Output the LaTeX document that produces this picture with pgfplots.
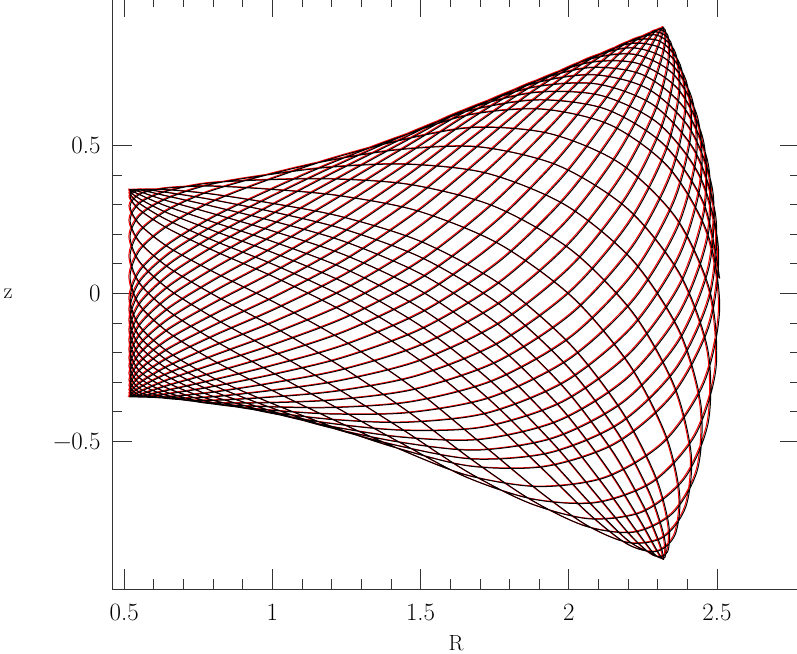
\documentclass[border=0pt]{standalone}
\usepackage{pgfplots}
\usepackage{pgfplotstable}
\pgfplotsset{compat=1.18}
\pgfplotstableread[row sep=\\]{
R z\\
2.509 0.050\\ 2.457 0.301\\ 2.322 0.502\\ 2.125 0.622\\ 1.896 0.653\\ 1.655 0.614\\ 1.421 0.523\\ 1.197 0.423\\ 0.987 0.322\\ 0.801 0.227\\ 0.651 0.133\\ 0.553 0.040\\ 0.520 -0.055\\ 0.553 -0.146\\ 0.648 -0.228\\ 0.792 -0.307\\ 0.975 -0.379\\ 1.187 -0.451\\ 1.424 -0.515\\ 1.678 -0.560\\ 1.937 -0.539\\ 2.175 -0.438\\ 2.364 -0.253\\ 2.476 -0.009\\
2.497 0.250\\ 2.428 0.477\\ 2.286 0.636\\ 2.094 0.707\\ 1.877 0.695\\ 1.652 0.620\\ 1.429 0.503\\ 1.209 0.382\\ 0.997 0.266\\ 0.806 0.160\\ 0.653 0.062\\ 0.553 -0.034\\ 0.520 -0.125\\ 0.553 -0.209\\ 0.645 -0.280\\ 0.787 -0.344\\ 0.971 -0.397\\ 1.189 -0.448\\ 1.436 -0.486\\ 1.700 -0.494\\ 1.966 -0.431\\ 2.201 -0.284\\ 2.376 -0.064\\ 2.469 0.190\\
2.471 0.434\\ 2.391 0.625\\ 2.250 0.738\\ 2.070 0.762\\ 1.870 0.710\\ 1.660 0.604\\ 1.444 0.463\\ 1.223 0.324\\ 1.007 0.197\\ 0.809 0.087\\ 0.653 -0.012\\ 0.553 -0.106\\ 0.520 -0.191\\ 0.553 -0.263\\ 0.642 -0.319\\ 0.784 -0.366\\ 0.970 -0.398\\ 1.196 -0.426\\ 1.453 -0.436\\ 1.725 -0.405\\ 1.991 -0.297\\ 2.216 -0.112\\ 2.374 0.128\\ 2.446 0.378\\
2.435 0.593\\ 2.352 0.742\\ 2.221 0.807\\ 2.058 0.787\\ 1.875 0.699\\ 1.676 0.564\\ 1.463 0.403\\ 1.238 0.251\\ 1.014 0.119\\ 0.811 0.010\\ 0.652 -0.086\\ 0.553 -0.173\\ 0.520 -0.247\\ 0.553 -0.305\\ 0.641 -0.344\\ 0.783 -0.372\\ 0.974 -0.383\\ 1.208 -0.386\\ 1.472 -0.366\\ 1.748 -0.294\\ 2.008 -0.147\\ 2.218 0.067\\ 2.356 0.312\\ 2.413 0.543\\
2.395 0.721\\ 2.319 0.824\\ 2.204 0.843\\ 2.060 0.783\\ 1.892 0.662\\ 1.698 0.501\\ 1.482 0.324\\ 1.249 0.165\\ 1.018 0.036\\ 0.810 -0.068\\ 0.651 -0.155\\ 0.553 -0.233\\ 0.520 -0.294\\ 0.553 -0.335\\ 0.640 -0.355\\ 0.785 -0.362\\ 0.981 -0.352\\ 1.222 -0.330\\ 1.491 -0.278\\ 1.765 -0.167\\ 2.013 0.013\\ 2.206 0.242\\ 2.327 0.478\\ 2.374 0.678\\
2.359 0.815\\ 2.297 0.872\\ 2.201 0.849\\ 2.075 0.751\\ 1.917 0.598\\ 1.723 0.413\\ 1.499 0.227\\ 1.256 0.070\\ 1.017 -0.050\\ 0.807 -0.142\\ 0.648 -0.219\\ 0.553 -0.282\\ 0.520 -0.327\\ 0.553 -0.349\\ 0.640 -0.350\\ 0.788 -0.336\\ 0.991 -0.305\\ 1.236 -0.258\\ 1.506 -0.173\\ 1.772 -0.029\\ 2.006 0.173\\ 2.182 0.402\\ 2.292 0.616\\ 2.337 0.780\\
2.333 0.874\\ 2.289 0.887\\ 2.213 0.822\\ 2.101 0.689\\ 1.947 0.506\\ 1.746 0.304\\ 1.511 0.117\\ 1.258 -0.029\\ 1.013 -0.133\\ 0.802 -0.211\\ 0.645 -0.272\\ 0.553 -0.319\\ 0.520 -0.346\\ 0.553 -0.349\\ 0.642 -0.329\\ 0.793 -0.295\\ 1.001 -0.244\\ 1.248 -0.173\\ 1.514 -0.059\\ 1.769 0.110\\ 1.987 0.321\\ 2.151 0.538\\ 2.255 0.723\\ 2.308 0.848\\
2.320 0.899\\ 2.298 0.869\\ 2.239 0.764\\ 2.134 0.596\\ 1.975 0.388\\ 1.763 0.178\\ 1.515 0.000\\ 1.253 -0.126\\ 1.005 -0.209\\ 0.796 -0.270\\ 0.643 -0.313\\ 0.553 -0.343\\ 0.520 -0.350\\ 0.553 -0.333\\ 0.644 -0.294\\ 0.799 -0.241\\ 1.009 -0.172\\ 1.256 -0.078\\ 1.514 0.059\\ 1.756 0.243\\ 1.961 0.450\\ 2.117 0.646\\ 2.225 0.797\\ 2.291 0.883\\
2.325 0.891\\ 2.321 0.818\\ 2.273 0.674\\ 2.167 0.473\\ 1.998 0.249\\ 1.772 0.041\\ 1.511 -0.117\\ 1.243 -0.216\\ 0.996 -0.276\\ 0.791 -0.317\\ 0.641 -0.341\\ 0.553 -0.351\\ 0.520 -0.338\\ 0.553 -0.303\\ 0.647 -0.247\\ 0.805 -0.177\\ 1.016 -0.092\\ 1.258 0.021\\ 1.506 0.173\\ 1.735 0.361\\ 1.932 0.556\\ 2.087 0.724\\ 2.205 0.839\\ 2.291 0.883\\
2.344 0.849\\ 2.355 0.733\\ 2.310 0.551\\ 2.195 0.325\\ 2.011 0.094\\ 1.769 -0.099\\ 1.499 -0.227\\ 1.229 -0.295\\ 0.986 -0.330\\ 0.786 -0.351\\ 0.640 -0.354\\ 0.553 -0.344\\ 0.520 -0.312\\ 0.553 -0.259\\ 0.649 -0.188\\ 0.809 -0.106\\ 1.018 -0.007\\ 1.254 0.118\\ 1.491 0.278\\ 1.711 0.460\\ 1.903 0.634\\ 2.066 0.771\\ 2.200 0.849\\ 2.306 0.852\\
2.376 0.772\\ 2.394 0.614\\ 2.343 0.397\\ 2.214 0.156\\ 2.012 -0.067\\ 1.757 -0.232\\ 1.482 -0.324\\ 1.214 -0.360\\ 0.977 -0.370\\ 0.783 -0.369\\ 0.640 -0.351\\ 0.553 -0.322\\ 0.520 -0.272\\ 0.553 -0.204\\ 0.651 -0.121\\ 0.811 -0.029\\ 1.016 0.078\\ 1.244 0.209\\ 1.472 0.366\\ 1.687 0.535\\ 1.882 0.684\\ 2.057 0.789\\ 2.210 0.829\\ 2.334 0.787\\
2.415 0.661\\ 2.431 0.463\\ 2.367 0.222\\ 2.219 -0.022\\ 2.001 -0.223\\ 1.737 -0.352\\ 1.463 -0.403\\ 1.201 -0.408\\ 0.972 -0.393\\ 0.783 -0.371\\ 0.642 -0.334\\ 0.553 -0.286\\ 0.520 -0.220\\ 0.553 -0.140\\ 0.653 -0.049\\ 0.811 0.049\\ 1.011 0.159\\ 1.230 0.290\\ 1.453 0.436\\ 1.667 0.587\\ 1.871 0.708\\ 2.063 0.778\\ 2.234 0.776\\ 2.371 0.688\\
2.454 0.517\\ 2.459 0.286\\ 2.377 0.032\\ 2.210 -0.199\\ 1.979 -0.367\\ 1.713 -0.452\\ 1.444 -0.463\\ 1.191 -0.439\\ 0.970 -0.400\\ 0.785 -0.357\\ 0.644 -0.301\\ 0.553 -0.237\\ 0.520 -0.159\\ 0.553 -0.070\\ 0.653 0.025\\ 0.808 0.124\\ 1.002 0.233\\ 1.216 0.356\\ 1.436 0.486\\ 1.655 0.615\\ 1.872 0.706\\ 2.081 0.738\\ 2.267 0.691\\ 2.410 0.555\\
2.486 0.344\\ 2.474 0.092\\ 2.372 -0.160\\ 2.189 -0.364\\ 1.952 -0.488\\ 1.689 -0.530\\ 1.429 -0.503\\ 1.187 -0.452\\ 0.972 -0.390\\ 0.789 -0.327\\ 0.646 -0.255\\ 0.553 -0.178\\ 0.520 -0.091\\ 0.553 0.003\\ 0.652 0.098\\ 0.803 0.194\\ 0.992 0.295\\ 1.202 0.405\\ 1.424 0.515\\ 1.652 0.620\\ 1.885 0.678\\ 2.109 0.668\\ 2.304 0.573\\ 2.444 0.393\\
2.505 0.151\\ 2.474 -0.108\\ 2.352 -0.342\\ 2.159 -0.507\\ 1.922 -0.585\\ 1.668 -0.584\\ 1.421 -0.523\\ 1.189 -0.446\\ 0.979 -0.364\\ 0.795 -0.283\\ 0.649 -0.198\\ 0.553 -0.111\\ 0.520 -0.018\\ 0.553 0.076\\ 0.650 0.166\\ 0.798 0.256\\ 0.983 0.345\\ 1.192 0.437\\ 1.420 0.525\\ 1.661 0.602\\ 1.908 0.622\\ 2.142 0.568\\ 2.338 0.425\\ 2.467 0.206\\
2.509 -0.050\\ 2.457 -0.301\\ 2.322 -0.502\\ 2.125 -0.622\\ 1.896 -0.653\\ 1.655 -0.614\\ 1.421 -0.523\\ 1.197 -0.423\\ 0.987 -0.322\\ 0.801 -0.227\\ 0.651 -0.133\\ 0.553 -0.040\\ 0.520 0.055\\ 0.553 0.146\\ 0.648 0.228\\ 0.792 0.307\\ 0.975 0.379\\ 1.187 0.451\\ 1.424 0.515\\ 1.678 0.560\\ 1.937 0.539\\ 2.175 0.438\\ 2.364 0.253\\ 2.476 0.009\\
2.497 -0.250\\ 2.428 -0.477\\ 2.286 -0.636\\ 2.094 -0.707\\ 1.877 -0.695\\ 1.652 -0.620\\ 1.429 -0.503\\ 1.209 -0.382\\ 0.997 -0.266\\ 0.806 -0.160\\ 0.653 -0.062\\ 0.553 0.034\\ 0.520 0.125\\ 0.553 0.209\\ 0.645 0.280\\ 0.787 0.344\\ 0.971 0.397\\ 1.189 0.448\\ 1.436 0.486\\ 1.700 0.494\\ 1.966 0.431\\ 2.201 0.284\\ 2.376 0.064\\ 2.469 -0.190\\
2.471 -0.434\\ 2.391 -0.625\\ 2.250 -0.738\\ 2.070 -0.762\\ 1.870 -0.710\\ 1.660 -0.604\\ 1.444 -0.463\\ 1.223 -0.324\\ 1.007 -0.197\\ 0.809 -0.087\\ 0.653 0.012\\ 0.553 0.106\\ 0.520 0.191\\ 0.553 0.263\\ 0.642 0.319\\ 0.784 0.366\\ 0.970 0.398\\ 1.196 0.426\\ 1.453 0.436\\ 1.725 0.405\\ 1.991 0.297\\ 2.216 0.112\\ 2.374 -0.128\\ 2.446 -0.378\\
2.435 -0.593\\ 2.352 -0.742\\ 2.221 -0.807\\ 2.058 -0.787\\ 1.875 -0.699\\ 1.676 -0.564\\ 1.463 -0.403\\ 1.238 -0.251\\ 1.014 -0.119\\ 0.811 -0.010\\ 0.652 0.086\\ 0.553 0.173\\ 0.520 0.247\\ 0.553 0.305\\ 0.641 0.344\\ 0.783 0.372\\ 0.974 0.383\\ 1.208 0.386\\ 1.472 0.366\\ 1.748 0.294\\ 2.008 0.147\\ 2.218 -0.067\\ 2.356 -0.312\\ 2.413 -0.543\\
2.395 -0.721\\ 2.319 -0.824\\ 2.204 -0.843\\ 2.060 -0.783\\ 1.892 -0.662\\ 1.698 -0.501\\ 1.482 -0.324\\ 1.249 -0.165\\ 1.018 -0.036\\ 0.810 0.068\\ 0.651 0.155\\ 0.553 0.233\\ 0.520 0.294\\ 0.553 0.335\\ 0.640 0.355\\ 0.785 0.362\\ 0.981 0.352\\ 1.222 0.330\\ 1.491 0.278\\ 1.765 0.167\\ 2.013 -0.013\\ 2.206 -0.242\\ 2.327 -0.478\\ 2.374 -0.678\\
2.359 -0.815\\ 2.297 -0.872\\ 2.201 -0.849\\ 2.075 -0.751\\ 1.917 -0.598\\ 1.723 -0.413\\ 1.499 -0.227\\ 1.256 -0.070\\ 1.017 0.050\\ 0.807 0.142\\ 0.648 0.219\\ 0.553 0.282\\ 0.520 0.327\\ 0.553 0.349\\ 0.640 0.350\\ 0.788 0.336\\ 0.991 0.305\\ 1.236 0.258\\ 1.506 0.173\\ 1.772 0.029\\ 2.006 -0.173\\ 2.182 -0.402\\ 2.292 -0.616\\ 2.337 -0.780\\
2.333 -0.874\\ 2.289 -0.887\\ 2.213 -0.822\\ 2.101 -0.689\\ 1.947 -0.506\\ 1.746 -0.304\\ 1.511 -0.117\\ 1.258 0.029\\ 1.013 0.133\\ 0.802 0.211\\ 0.645 0.272\\ 0.553 0.319\\ 0.520 0.346\\ 0.553 0.349\\ 0.642 0.329\\ 0.793 0.295\\ 1.001 0.244\\ 1.248 0.173\\ 1.514 0.059\\ 1.769 -0.110\\ 1.987 -0.321\\ 2.151 -0.538\\ 2.255 -0.723\\ 2.308 -0.848\\
2.320 -0.899\\ 2.298 -0.869\\ 2.239 -0.764\\ 2.134 -0.596\\ 1.975 -0.388\\ 1.763 -0.178\\ 1.515 0.000\\ 1.253 0.126\\ 1.005 0.209\\ 0.796 0.270\\ 0.643 0.313\\ 0.553 0.343\\ 0.520 0.350\\ 0.553 0.333\\ 0.644 0.294\\ 0.799 0.241\\ 1.009 0.172\\ 1.256 0.078\\ 1.514 -0.059\\ 1.756 -0.243\\ 1.961 -0.450\\ 2.117 -0.646\\ 2.225 -0.797\\ 2.291 -0.883\\
2.325 -0.891\\ 2.321 -0.818\\ 2.273 -0.674\\ 2.167 -0.473\\ 1.998 -0.249\\ 1.772 -0.041\\ 1.511 0.117\\ 1.243 0.216\\ 0.996 0.276\\ 0.791 0.317\\ 0.641 0.341\\ 0.553 0.351\\ 0.520 0.338\\ 0.553 0.303\\ 0.647 0.247\\ 0.805 0.177\\ 1.016 0.092\\ 1.258 -0.021\\ 1.506 -0.173\\ 1.735 -0.361\\ 1.932 -0.556\\ 2.087 -0.724\\ 2.205 -0.839\\ 2.291 -0.883\\
}\orbit
\begin{document}
\begin{tikzpicture}
\useasboundingbox (-112bp,-64.7bp) rectangle (685bp,589.3bp);
\begin{axis}[
  at={(0,0)}, anchor=south west,
  width=688bp, height=592bp, scale only axis,
  xmin=0.459, xmax=2.780, ymin=-1, ymax=1,
  xtick={0.5,1,1.5,2,2.5}, ytick={-0.5,0,0.5},
  xticklabels={0.5,1,1.5,2,2.5}, yticklabels={−0.5,0,0.5},
  minor x tick num=4, minor y tick num=4,
  tick pos=both, tick align=inside,
  major tick length=20bp, minor tick length=10bp,
  tick style={line width=0.7pt, black!80},
  axis line style={line width=0.8pt, black!80},
  tick label style={font=\fontsize{25}{28}\selectfont},
  xticklabel style={anchor=base, yshift=-31bp},
  yticklabel style={anchor=east, xshift=-8bp},
  every axis x label/.style={at={(axis description cs:0.5,0)}, anchor=center, yshift=-54bp, font=\fontsize{22}{26}\selectfont},
  every axis y label/.style={at={(axis description cs:0,0.5)}, anchor=center, xshift=-104bp, font=\fontsize{22}{26}\selectfont},
  xlabel={R}, ylabel={z},
]
\addplot[red, line width=1.0pt, smooth, xshift=-1.2bp, yshift=0.5bp] table[x=R, y=z] {\orbit};
\addplot[black, line width=1.0pt, smooth] table[x=R, y=z] {\orbit};
\end{axis}
\end{tikzpicture}
\end{document}
